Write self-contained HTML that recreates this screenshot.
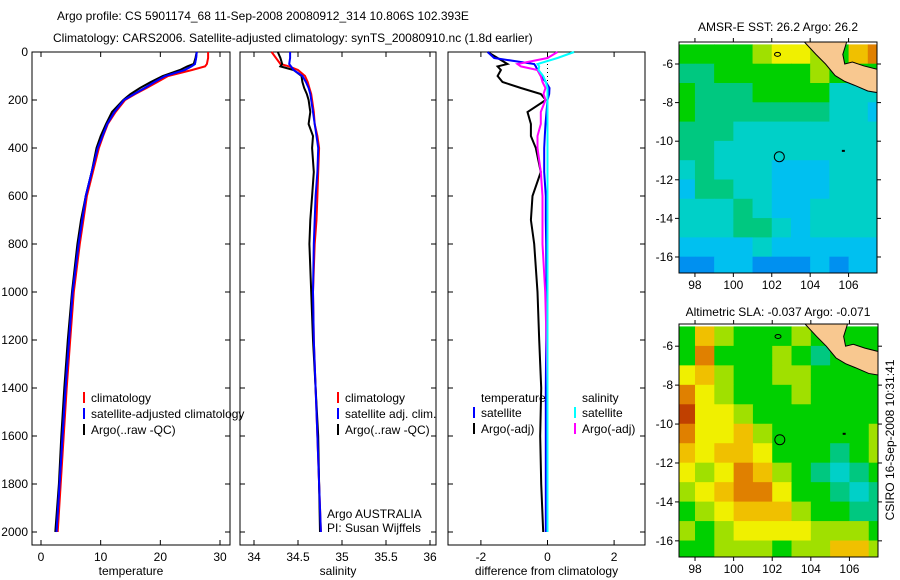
<!DOCTYPE html>
<html><head><meta charset="utf-8"><style>
html,body{margin:0;padding:0;background:#fff;}
svg{display:block;font-family:"Liberation Sans",sans-serif;}
text{font-size:12px;fill:#000;}
</style></head><body>
<svg id="fig" width="900" height="580" viewBox="0 0 900 580" xmlns="http://www.w3.org/2000/svg">
<text x="57" y="20">Argo profile: CS 5901174_68 11-Sep-2008 20080912_314 10.806S 102.393E</text>
<text x="53" y="42">Climatology: CARS2006. Satellite-adjusted climatology: synTS_20080910.nc (1.8d earlier)</text>
<text x="778" y="31" text-anchor="middle">AMSR-E SST: 26.2 Argo: 26.2</text>
<text x="778" y="316" text-anchor="middle">Altimetric SLA: -0.037 Argo: -0.071</text>
<text transform="translate(894,440) rotate(-90)" text-anchor="middle">CSIRO 16-Sep-2008 10:31:41</text>
<g id="g"></g>
</svg>
<script>
// ---------- depth grid ----------
const depths = [0,25,50,60,75,100,125,150,175,200,250,300,350,400,500,600,700,800,1000,1200,1400,1600,1800,2000];
// temperature
const tempClim = [28.0,28.0,27.8,27.5,25.3,21.3,19.5,17.7,15.8,14.1,12.5,11.2,10.4,9.7,8.7,7.7,7.1,6.5,5.5,4.9,4.3,3.8,3.3,2.8];
const tempSat  = [26.1,26.0,25.8,25.2,24.1,20.8,19.0,17.4,15.6,13.9,12.3,11.1,10.3,9.5,8.5,7.5,6.9,6.3,5.3,4.7,4.1,3.6,3.1,2.6];
const tempArgo = [26.1,25.9,25.6,24.5,23.3,20.4,18.4,16.6,15.0,13.8,11.9,10.9,10.0,9.3,8.5,7.5,6.7,6.1,5.2,4.5,3.9,3.4,3.0,2.4];
// salinity
const salClim = [34.20,34.25,34.30,34.40,34.50,34.58,34.61,34.63,34.65,34.66,34.68,34.69,34.72,34.74,34.73,34.72,34.71,34.69,34.67,34.68,34.70,34.72,34.74,34.76];
const salSat  = [34.41,34.41,34.40,34.42,34.45,34.55,34.59,34.62,34.64,34.65,34.67,34.69,34.71,34.73,34.72,34.70,34.69,34.68,34.67,34.68,34.70,34.72,34.74,34.76];
const salArgo = [34.27,34.30,34.32,34.30,34.45,34.54,34.55,34.57,34.60,34.62,34.64,34.62,34.67,34.66,34.68,34.66,34.64,34.63,34.65,34.67,34.70,34.73,34.74,34.75];
// differences
const dTempSat  = [-1.8,-1.6,-0.4,-0.35,-0.3,-0.2,-0.05,0.06,0.05,0.0,-0.03,-0.06,-0.08,-0.1,-0.1,-0.05,-0.05,-0.04,-0.03,-0.04,-0.05,-0.05,-0.05,-0.05];
const dTempArgo = [-1.8,-1.5,-1.2,-1.5,-1.4,-1.5,-1.35,-0.8,-0.2,-0.05,-0.6,-0.5,-0.5,-0.35,-0.2,-0.45,-0.5,-0.4,-0.3,-0.25,-0.19,-0.22,-0.19,-0.13];
const dSalSat   = [0.8,0.3,-0.3,-0.25,-0.27,-0.13,-0.05,0.0,0.0,0.0,0.0,0.0,0.0,0.0,0.0,0.0,0.0,0.0,0.0,0.0,0.0,0.0,0.0,0.0];
const dSalArgo  = [0.3,0.0,-0.9,-0.8,-0.3,-0.2,-0.15,-0.06,-0.12,-0.06,-0.2,-0.2,-0.3,-0.3,-0.2,-0.15,-0.15,-0.15,-0.07,-0.03,0.0,0.0,0.0,0.0];
// ticks
const depthTicks = [0,200,400,600,800,1000,1200,1400,1600,1800,2000];
const tempTicks = [0,10,20,30];
const salTicks = [34,34.5,35,35.5,36];
const salTickLabels = ["34","34.5","35","35.5","36"];
const diffTicks = [-2,0,2];
const lonTicks = [98,100,102,104,106];
const latTicks = [-6,-8,-10,-12,-14,-16];
// maps (1-degree cells, lon 97..107, lat -5..-16 rows), colour index 0..10
const mapLons = [97,98,99,100,101,102,103,104,105,106,107];
const mapLats = [-5,-6,-7,-8,-9,-10,-11,-12,-13,-14,-15,-16];
const sstGrid = [
[5,5,5,5,6,7,7,6,5,8,9],
[4,4,5,5,5,5,5,6,5,5,5],
[5,4,4,4,5,5,5,5,3,3,3],
[5,4,4,4,4,4,4,4,3,3,2],
[4,4,4,3,3,3,3,3,3,3,3],
[4,4,3,3,3,3,3,3,3,3,3],
[3,4,3,3,3,2,2,2,3,3,3],
[2,4,4,3,3,2,2,2,3,3,3],
[3,3,3,4,3,2,2,3,3,3,3],
[3,3,3,4,4,3,2,3,3,3,3],
[2,2,2,2,3,2,2,2,2,2,2],
[1,1,2,2,1,1,1,2,1,2,2]];
const slaGrid = [
[5,8,6,5,5,5,6,5,5,5,5],
[5,9,5,5,5,6,5,4,5,5,5],
[7,8,6,5,5,6,6,5,5,5,5],
[9,7,6,5,5,5,6,5,5,5,5],
[10,7,7,6,5,5,5,5,5,5,5],
[9,7,7,8,6,5,5,5,5,5,6],
[8,7,8,8,7,5,5,5,4,5,6],
[7,6,7,9,8,6,5,4,3,4,5],
[6,7,8,9,9,7,5,5,4,3,4],
[5,6,7,8,8,8,6,5,5,4,4],
[6,5,6,7,7,7,7,6,6,6,5],
[5,5,6,6,6,5,6,6,8,8,6]];
const palette = ["#1040d0","#0090f0","#00c0f0","#00d0c8","#00c880","#00d000","#a0e000","#f0f000","#f0c000","#e08000","#c04000"];
const landLon = [103.7,104.3,104.8,105.3,105.8,106.3,107.0,107.6,107.6,106.8,106.2,105.8,105.7,105.9];
const landLat = [-4.86,-5.5,-6.0,-6.6,-6.9,-7.1,-7.4,-7.5,-6.3,-6.1,-5.9,-6.0,-5.5,-4.86];
const floatLon = 102.393, floatLat = -10.806;

const NS="http://www.w3.org/2000/svg";
const G=document.getElementById('g');
function mk(tag,attrs,parent){const e=document.createElementNS(NS,tag);for(const k in attrs)e.setAttribute(k,attrs[k]);(parent||G).appendChild(e);return e;}
const yTop=52, yScale=0.24, yBot=545;
const yD=d=>yTop+d*yScale;

function panel(name,x0,x1,xf,ticks,labels,xlabel,showDepth){
  const g=mk('g',{});
  
  
  const fr=mk('rect',{x:x0,y:yTop,width:x1-x0,height:yBot-yTop,fill:'none',stroke:'#000','stroke-width':1},g);
  
  
  ticks.forEach((t,i)=>{const x=xf(t);
    mk('line',{x1:x,x2:x,y1:yBot,y2:yBot-5,stroke:'#000'},g);
    mk('line',{x1:x,x2:x,y1:yTop,y2:yTop+5,stroke:'#000'},g);
    const tx=mk('text',{x:x,y:yBot+16,'text-anchor':'middle'},g);tx.textContent=labels[i];
    
    
  });
  depthTicks.forEach(d=>{const y=yD(d);
    mk('line',{x1:x0,x2:x0+5,y1:y,y2:y,stroke:'#000'},g);
    mk('line',{x1:x1,x2:x1-5,y1:y,y2:y,stroke:'#000'},g);
    if(showDepth){const tx=mk('text',{x:x0-4,y:y+4,'text-anchor':'end'},g);tx.textContent=d;
      
      }
  });
  const xl=mk('text',{x:(x0+x1)/2,y:575,'text-anchor':'middle'},g);xl.textContent=xlabel;
  
  
  return g;
}
function series(g,vals,xf,color,name){
  const pts=vals.map((v,i)=>xf(v).toFixed(1)+','+yD(depths[i]).toFixed(1)).join(' ');
  const p=mk('polyline',{points:pts,fill:'none',stroke:color,'stroke-width':2},g);
  
  
}
function legend(g,x,y,color,label,name){
  if(color) mk('line',{x1:x,x2:x,y1:y-10,y2:y+1,stroke:color,'stroke-width':2},g);
  const t=mk('text',{x:x+7,y:y},g);t.textContent=label;
  
  
}
const xT=v=>41+v*(179/30);
const g1=panel('temperature-panel',32,230,xT,tempTicks,tempTicks.map(String),'temperature',true);
series(g1,tempClim,xT,'#f00','temp-climatology-line');
series(g1,tempSat,xT,'#00f','temp-satellite-line');
series(g1,tempArgo,xT,'#000','temp-argo-line');
series(g1,tempSat,xT,'#00f','temp-satellite-line-top');
legend(g1,84,402,'#f00','climatology','legend-climatology');
legend(g1,84,418,'#00f','satellite-adjusted climatology','legend-satellite-adjusted');
legend(g1,84,434,'#000','Argo(..raw -QC)','legend-argo-raw');
const xS=v=>254+(v-34)*88;
const g2=panel('salinity-panel',240,436,xS,salTicks,salTickLabels,'salinity',false);
series(g2,salClim,xS,'#f00','sal-climatology-line');
series(g2,salArgo,xS,'#000','sal-argo-line');
series(g2,salSat,xS,'#00f','sal-satellite-line');
legend(g2,338,402,'#f00','climatology','legend-sal-climatology');
legend(g2,338,418,'#00f','satellite adj. clim.','legend-sal-satellite');
legend(g2,338,434,'#000','Argo(..raw -QC)','legend-sal-argo');
legend(g2,320,518,null,'Argo AUSTRALIA','argo-australia-label');
legend(g2,320,532,null,'PI: Susan Wijffels','pi-label');
const xDf=v=>547.5+v*33.3;
const g3=panel('difference-panel',448,645,xDf,diffTicks,diffTicks.map(String),'difference from climatology',false);
mk('line',{x1:xDf(0),x2:xDf(0),y1:yTop,y2:yD(2000),stroke:'#000','stroke-dasharray':'1,3'},g3);
series(g3,dTempArgo,xDf,'#000','diff-temp-argo-line');
series(g3,dTempSat,xDf,'#00f','diff-temp-satellite-line');
series(g3,dSalArgo,xDf,'#f0f','diff-sal-argo-line');
series(g3,dSalSat,xDf,'#0ff','diff-sal-satellite-line');
legend(g3,474,402,null,'temperature','legend-temperature-heading');
legend(g3,474,417,'#00f','satellite','legend-diff-temp-satellite');
legend(g3,474,433,'#000','Argo(-adj)','legend-diff-temp-argo');
legend(g3,575,402,null,'salinity','legend-salinity-heading');
legend(g3,575,417,'#0ff','satellite','legend-diff-sal-satellite');
legend(g3,575,433,'#f0f','Argo(-adj)','legend-diff-sal-argo');

function map(name,grid,x0,x1,y0,y1){
  const lon0=97.17,lon1=107.48,lat0=-4.86,lat1=-16.83;
  const X=l=>x0+(l-lon0)/(lon1-lon0)*(x1-x0);
  const Y=l=>y0+(l-lat0)/(lat1-lat0)*(y1-y0);
  const g=mk('g',{});
  
  
  const cid='clip-'+name;
  const cp=mk('clipPath',{id:cid},g);
  mk('rect',{x:x0,y:y0,width:x1-x0,height:y1-y0},cp);
  const cg=mk('g',{'clip-path':'url(#'+cid+')'},g);
  grid.forEach((row,r)=>row.forEach((v,c)=>{
    const xa=X(mapLons[c]),xb=X(mapLons[c]+1),ya=Y(mapLats[r]),yb=Y(mapLats[r]-1);
    const cell=mk('rect',{x:xa,y:Math.min(ya,yb)-0.3,width:xb-xa+0.5,height:Math.abs(yb-ya)+0.6,fill:palette[v]},cg);
    
    
  }));
  const land=mk('polygon',{points:landLon.map((l,i)=>X(l)+','+Y(landLat[i])).join(' '),fill:'#f8c890',stroke:'#000','stroke-width':1},cg);
  
  
  const fr=mk('rect',{x:x0,y:y0,width:x1-x0,height:y1-y0,fill:'none',stroke:'#000'},g);
  
  
  const c=mk('circle',{cx:X(floatLon),cy:Y(floatLat),r:5,fill:'none',stroke:'#000'},g);
  
  
  mk('ellipse',{cx:X(102.3),cy:Y(-5.5),rx:3,ry:2,fill:'none',stroke:'#000'},g);
  mk('rect',{x:X(105.65),y:Y(-10.45),width:3,height:2,fill:'#000'},g);
  lonTicks.forEach(l=>{const x=X(l);
    mk('line',{x1:x,x2:x,y1:y0,y2:y0-4,stroke:'#000'},g);
    mk('line',{x1:x,x2:x,y1:y1,y2:y1+4,stroke:'#000'},g);
    const t=mk('text',{x:x,y:y1+16,'text-anchor':'middle'},g);t.textContent=l;
    
    
  });
  latTicks.forEach(l=>{const y=Y(l);
    mk('line',{x1:x0,x2:x0-4,y1:y,y2:y,stroke:'#000'},g);
    mk('line',{x1:x1,x2:x1+4,y1:y,y2:y,stroke:'#000'},g);
    const t=mk('text',{x:x0-6,y:y+4,'text-anchor':'end'},g);t.textContent=l;
    
    
  });
}
map('sst-map',sstGrid,679,877,42,273);
map('sla-map',slaGrid,679,878,324,557);
</script>
</body></html>
